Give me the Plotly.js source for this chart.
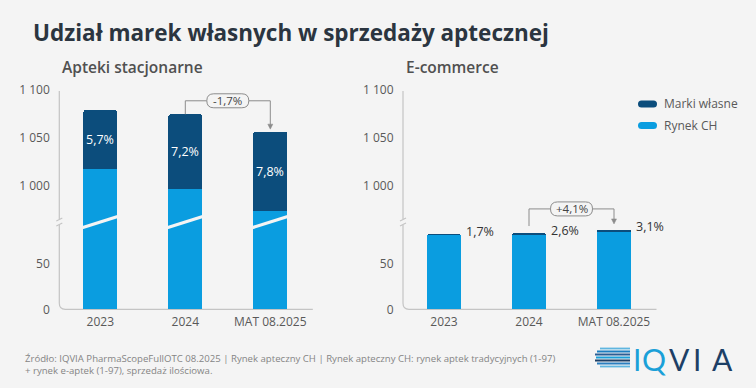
<!DOCTYPE html>
<html><head><meta charset="utf-8">
<script src="https://cdn.plot.ly/plotly-3.0.1.min.js"></script>
<style>html,body{margin:0;padding:0;background:#f4f4f4;}#chart{width:756px;height:388px;}</style>
</head><body><div id="chart"></div>
<script>
// ---- data ----
const categories = ['2023', '2024', 'MAT 08.2025'];
const stationaryRynek = [1017.5, 997.3, 974.0];
const stationaryMarki = [61.5, 77.4, 82.4];
const ecommerceRynek = [80.4, 80.7, 83.6];
const ecommerceMarki = [1.4, 2.2, 2.7];
const stationaryShareLabels = ['5,7%', '7,2%', '7,8%'];
const ecommerceShareLabels = ['1,7%', '2,6%', '3,1%'];
const changeLabels = ['-1,7%', '+4,1%'];
const seriesNames = ['Marki własne', 'Rynek CH'];
const lowerTickVals = [0, 50];
const lowerTickText = ['0', '50'];
const upperTickVals = [1000, 1050, 1100];
const upperTickText = ['1 000', '1 050', '1 100'];

// ---- geometry / style ----
const W = 756, H = 388;
const BG = '#f4f4f4';
const LIGHT = '#0a9de0', DARK = '#0c4d7c';
const AXIS = '#c4c4c4', GREY = '#8c8c8c', TXT = '#595959';
const FONT = 'Open Sans, Noto Sans, sans-serif';
const yZero = 309.3, yBreak = 222, yTop = 90;
const lowMax = 94.9, upMin = 962.5, upMax = 1100;
const panels = [[57.8, 312.8], [401.5, 656.5]];
const fx = x => x / W, fy = y => 1 - y / H;
const lowDom = [fy(yZero), fy(yBreak)], upDom = [fy(yBreak), fy(yTop)];
function xPix(p, i) { const d = panels[p]; return d[0] + (i + 0.5) / 3 * (d[1] - d[0]); }
function yPix(v) {
  if (v <= lowMax) return yZero - v / lowMax * (yZero - yBreak);
  return yBreak - (v - upMin) / (upMax - upMin) * (yBreak - yTop);
}
const barHalf = 0.2 * (panels[0][1] - panels[0][0]) / 3;

// ---- traces ----
const traces = [];
function addPanel(p, rynek, marki) {
  const ax = p === 0 ? [['x', 'y'], ['x2', 'y2']] : [['x3', 'y3'], ['x4', 'y4']];
  ax.forEach(([xa, ya]) => {
    traces.push({type: 'bar', x: categories, y: rynek, name: seriesNames[1], xaxis: xa, yaxis: ya,
      marker: {color: LIGHT, line: {width: 0}}, showlegend: false, hoverinfo: 'skip'});
    traces.push({type: 'bar', x: categories, y: marki, name: seriesNames[0], xaxis: xa, yaxis: ya,
      marker: {color: DARK, line: {width: 0}}, showlegend: false, hoverinfo: 'skip'});
  });
}
addPanel(0, stationaryRynek, stationaryMarki);
addPanel(1, ecommerceRynek, ecommerceMarki);

// ---- axes ----
const tickFont = {family: FONT, size: 12, color: TXT};
function xAxis(p, anchor, show) {
  return {domain: [fx(panels[p][0]), fx(panels[p][1])], anchor: anchor, type: 'category',
    categoryarray: categories, range: [-0.5, 2.5], showgrid: false, zeroline: false, showline: false,
    showticklabels: show, tickfont: tickFont, ticks: '', ticklabelstandoff: 4, fixedrange: true};
}
function yAxis(anchor, dom, rng, tv, tt) {
  return {domain: dom, anchor: anchor, range: rng, tickvals: tv, ticktext: tt, showgrid: false,
    zeroline: false, showline: false, tickfont: tickFont, ticks: '', ticklabelstandoff: 7, fixedrange: true};
}

// ---- shapes ----
const shapes = [];
const P = (x, y) => fx(x) + ',' + fy(y);
function line(x0, y0, x1, y1, color, w, layer) {
  shapes.push({type: 'line', xref: 'paper', yref: 'paper', x0: fx(x0), y0: fy(y0), x1: fx(x1), y1: fy(y1),
    line: {color: color, width: w}, layer: layer || 'above'});
}
function path(d, fill, lc, lw, layer) {
  shapes.push({type: 'path', xref: 'paper', yref: 'paper', path: d, fillcolor: fill,
    line: {color: lc, width: lw}, layer: layer || 'above'});
}
function pill(cx, cy, w, h, fill, lc, lw) {
  const r = h / 2, l = cx - w / 2, rt = cx + w / 2, t = cy - h / 2, b = cy + h / 2;
  path('M' + P(l + r, t) + ' L' + P(rt - r, t) + ' Q' + P(rt, t) + ' ' + P(rt, cy) +
       ' Q' + P(rt, b) + ' ' + P(rt - r, b) + ' L' + P(l + r, b) + ' Q' + P(l, b) + ' ' + P(l, cy) +
       ' Q' + P(l, t) + ' ' + P(l + r, t) + ' Z', fill, lc, lw);
}
// axis L-shapes with rounded corner and break marks
[0, 1].forEach(p => {
  const ax = panels[p][0] + 1.5, right = panels[p][1];
  path('M' + P(ax, yTop + 1) + ' L' + P(ax, yZero - 6) + ' Q' + P(ax, yZero) + ' ' + P(ax + 6, yZero) +
       ' L' + P(right, yZero), 'rgba(0,0,0,0)', AXIS, 1.2, 'below');
  path('M' + P(ax - 3, yBreak - 3) + ' L' + P(ax + 3, yBreak - 3) + ' L' + P(ax + 3, yBreak + 3) +
       ' L' + P(ax - 3, yBreak + 3) + ' Z', BG, BG, 0, 'above');
  line(ax - 3, yBreak - 1, ax + 3, yBreak - 4, AXIS, 1.2);
  line(ax - 3, yBreak + 4, ax + 3, yBreak + 1, AXIS, 1.2);
});
// slashes through the broken stationary bars
categories.forEach((c, i) => {
  const cx = xPix(0, i);
  line(cx - barHalf - 2, yBreak + 6, cx + barHalf + 2, yBreak - 6, BG, 3.2);
});
// change brackets
const annotations = [];
function bracket(p, i0, i1, top0, top1, level, gap0, gap1, label) {
  const x0 = xPix(p, i0), x1 = xPix(p, i1), cx = (x0 + x1) / 2;
  const pw = 42, ph = 14;
  line(x0, top0 - gap0, x0, level, GREY, 1);
  line(x0, level, cx - pw / 2, level, GREY, 1);
  line(cx + pw / 2, level, x1, level, GREY, 1);
  const tip = top1 - gap1;
  line(x1, level, x1, tip - 4, GREY, 1);
  path('M' + P(x1 - 2.5, tip - 5) + ' L' + P(x1 + 2.5, tip - 5) + ' L' + P(x1, tip) + ' Z', GREY, GREY, 0.5);
  pill(cx, level, pw, ph, BG, GREY, 1);
  annotations.push({xref: 'paper', yref: 'paper', x: fx(cx), y: fy(level), text: label, showarrow: false,
    xanchor: 'center', yanchor: 'middle', font: {family: FONT, size: 11.5, color: '#444'}});
}
const stTop = stationaryRynek.map((v, i) => yPix(v + stationaryMarki[i]));
const ecTop = ecommerceRynek.map((v, i) => yPix(v + ecommerceMarki[i]));
bracket(0, 1, 2, stTop[1], stTop[2], Math.min(stTop[1], stTop[2]) - 13.5, 0, 2.7, changeLabels[0]);
bracket(1, 1, 2, ecTop[1], ecTop[2], Math.min(ecTop[1], ecTop[2]) - 21, 7, 6, changeLabels[1]);

// legend
pill(647.5, 104, 19, 7, DARK, DARK, 0);
pill(647.5, 125.5, 19, 7, LIGHT, LIGHT, 0);
annotations.push({xref: 'paper', yref: 'paper', x: fx(662), y: fy(104), text: seriesNames[0], showarrow: false,
  xanchor: 'left', yanchor: 'middle', font: {family: FONT, size: 12, color: TXT}});
annotations.push({xref: 'paper', yref: 'paper', x: fx(662), y: fy(125.5), text: seriesNames[1], showarrow: false,
  xanchor: 'left', yanchor: 'middle', font: {family: FONT, size: 12, color: TXT}});

// value labels
categories.forEach((c, i) => {
  annotations.push({xref: 'x2', yref: 'y2', x: i, y: stationaryRynek[i] + stationaryMarki[i] / 2,
    text: stationaryShareLabels[i], showarrow: false, xanchor: 'center', yanchor: 'middle',
    font: {family: FONT, size: 12.5, color: '#ffffff'}});
  annotations.push({xref: 'x3', yref: 'y3', x: i + 0.2, y: ecommerceRynek[i] + ecommerceMarki[i],
    text: ecommerceShareLabels[i], showarrow: false, xanchor: 'left', yanchor: 'middle', xshift: 3, yshift: 3,
    font: {family: FONT, size: 12.5, color: '#333'}});
});

// titles & footer
annotations.push({xref: 'paper', yref: 'paper', x: fx(31), y: fy(32), xanchor: 'left', yanchor: 'middle',
  text: '<b>Udział marek własnych w sprzedaży aptecznej</b>', showarrow: false,
  font: {family: FONT, size: 22.5, color: '#2b3540'}});
annotations.push({xref: 'paper', yref: 'paper', x: fx(60), y: fy(67), xanchor: 'left', yanchor: 'middle',
  text: 'Apteki stacjonarne', showarrow: false, font: {family: FONT, size: 15.5, color: '#505050', weight: 600}});
annotations.push({xref: 'paper', yref: 'paper', x: fx(404), y: fy(67), xanchor: 'left', yanchor: 'middle',
  text: 'E-commerce', showarrow: false, font: {family: FONT, size: 15.5, color: '#505050', weight: 600}});
const footFont = {family: 'Liberation Sans Narrow, Open Sans, sans-serif', size: 9.6, color: '#858585'};
annotations.push({xref: 'paper', yref: 'paper', x: fx(23), y: fy(364), xanchor: 'left', yanchor: 'middle', showarrow: false,
  align: 'left',
  text: 'Źródło: IQVIA PharmaScopeFullOTC 08.2025 | Rynek apteczny CH | Rynek apteczny CH: rynek aptek tradycyjnych (1-97)<br>+ rynek e-aptek (1-97), sprzedaż ilościowa.',
  font: footFont});

// logo
const logoLetters = [['I', 636.5, '#1ba0d8'], ['Q', 654, '#1ba0d8'], ['V', 679.5, '#1d3f66'], ['I', 696.5, '#1d3f66'], ['A', 722, '#1d3f66']];
logoLetters.forEach(([t, x, c]) => annotations.push({xref: 'paper', yref: 'paper', x: fx(x), y: fy(358.5),
  xanchor: 'center', yanchor: 'middle', text: t, showarrow: false,
  font: {family: 'Lato, Open Sans, sans-serif', size: 30, color: c, weight: 400}}));
const stripes = [[600, 348.5, '#5fb6e0'], [597, 351.5, '#1b7fc0'], [595, 354.5, '#2a5f95'], [596, 357.5, '#1ba0d8'],
  [595, 360.5, '#1d3f66'], [597, 363.5, '#2a7fc0'], [600, 366.5, '#5fb6e0']];
stripes.forEach(([x0, y, c]) => line(x0, y, 630, y, c, 1.8));

const layout = {
  width: W, height: H, margin: {l: 0, r: 0, t: 0, b: 0},
  paper_bgcolor: BG, plot_bgcolor: 'rgba(0,0,0,0)',
  barmode: 'stack', bargap: 0.6, barcornerradius: 2, showlegend: false,
  font: {family: FONT},
  xaxis: xAxis(0, 'y', true), xaxis2: xAxis(0, 'y2', false),
  xaxis3: xAxis(1, 'y3', true), xaxis4: xAxis(1, 'y4', false),
  yaxis: yAxis('x', lowDom, [0, lowMax], lowerTickVals, lowerTickText),
  yaxis2: yAxis('x2', upDom, [upMin, upMax], upperTickVals, upperTickText),
  yaxis3: yAxis('x3', lowDom, [0, lowMax], lowerTickVals, lowerTickText),
  yaxis4: yAxis('x4', upDom, [upMin, upMax], upperTickVals, upperTickText),
  shapes: shapes, annotations: annotations
};
Plotly.newPlot('chart', traces, layout, {staticPlot: true, displayModeBar: false});
</script></body></html>
